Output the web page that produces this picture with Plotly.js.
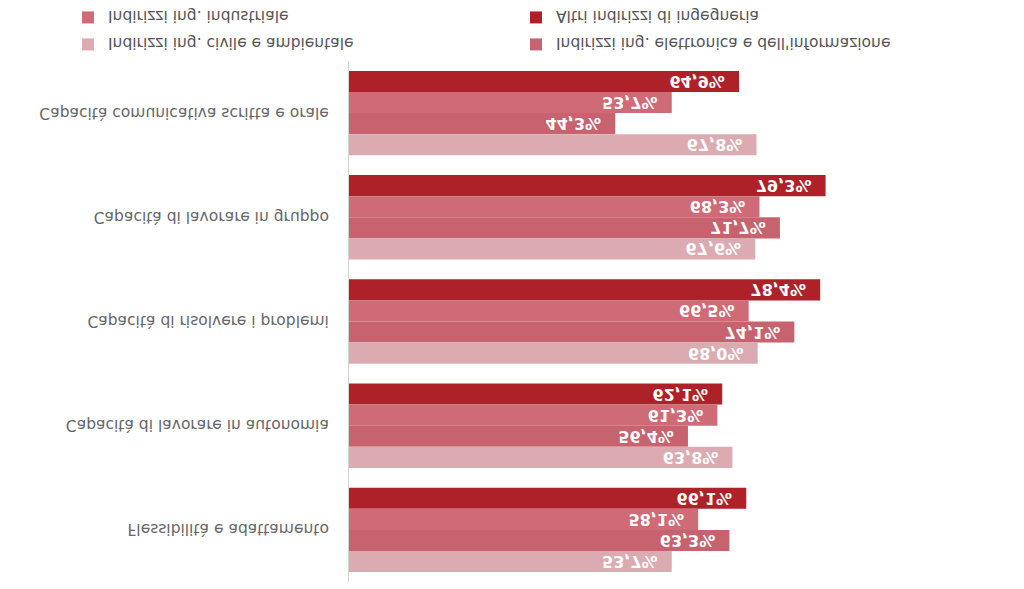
<!DOCTYPE html>
<html>
<head>
<meta charset="utf-8">
<script src="https://cdn.plot.ly/plotly-3.0.1.min.js"></script>
<style>
  html, body { margin: 0; padding: 0; background: #ffffff; }
  #chart { width: 1024px; height: 589px; transform: scaleY(-1); transform-origin: 50% 50%; }
</style>
</head>
<body>
<div id="chart"></div>
<script>
// Categories (first = bottom of plot; the whole figure is shown mirrored vertically, as in the reference)
const categories = [
  "Capacità comunicativa scritta e orale",
  "Capacità di lavorare in gruppo",
  "Capacità di risolvere i problemi",
  "Capacità di lavorare in autonomia",
  "Flessibilità e adattamento"
];
const seriesNames = [
  "Altri indirizzi di ingegneria",
  "Indirizzi ing. industriale",
  "Indirizzi ing. elettronica e dell'informazione",
  "Indirizzi ing. civile e ambientale"
];
const altri       = [64.9, 79.3, 78.4, 62.1, 66.1];
const industriale = [53.7, 68.3, 66.5, 61.3, 58.1];
const elettronica = [44.3, 71.7, 74.1, 56.4, 63.3];
const civile      = [67.8, 67.6, 68.0, 63.8, 53.7];

const colors = ["#af2129", "#cf6a77", "#c7626f", "#dcabb1"];
const seriesValues = [altri, industriale, elettronica, civile];
const legendIds = ["legend", "legend2", "legend3", "legend4"];

const fmt = v => v.toFixed(1).replace('.', ',') + '%\u00a0\u00a0';

const traces = seriesValues.map((vals, i) => ({
  type: 'bar',
  orientation: 'h',
  name: seriesNames[i],
  legend: legendIds[i],
  y: categories,
  x: vals,
  text: vals.map(fmt),
  textposition: 'inside',
  insidetextanchor: 'end',
  textangle: 0,
  constraintext: 'none',
  textfont: { family: 'DejaVu Sans', size: 16, color: '#ffffff', weight: 'bold' },
  marker: { color: colors[i], line: { width: 0 } },
  hoverinfo: 'skip'
}));

const legFont = { family: 'DejaVu Sans', size: 15.5, color: '#555555' };
const mkLegend = (x, y) => ({
  orientation: 'h',
  xref: 'container', yref: 'container',
  x: x, y: y, xanchor: 'left', yanchor: 'middle',
  bgcolor: 'rgba(0,0,0,0)', borderwidth: 0,
  font: legFont
});

const layout = {
  width: 1024,
  height: 589,
  margin: { l: 349, r: 74, t: 7, b: 60 },
  paper_bgcolor: '#ffffff',
  plot_bgcolor: '#ffffff',
  barmode: 'group',
  bargap: 0.19,
  bargroupgap: 0,
  showlegend: true,
  legend:  mkLegend(516 / 1024, 17 / 589),   // Altri indirizzi
  legend2: mkLegend(68 / 1024, 17 / 589),    // industriale
  legend3: mkLegend(516 / 1024, 44 / 589),   // elettronica
  legend4: mkLegend(68 / 1024, 44 / 589),    // civile
  xaxis: {
    range: [0, 100],
    showgrid: false, zeroline: false, showticklabels: false, showline: false, ticks: ''
  },
  yaxis: {
    type: 'category',
    showgrid: false, zeroline: false, showline: true,
    linecolor: '#d4d4d4', linewidth: 1,
    ticks: '', ticklabelstandoff: 16,
    tickfont: { family: 'DejaVu Sans', size: 15.5, color: '#666666' }
  },
  font: { family: 'DejaVu Sans' }
};

Plotly.newPlot('chart', traces, layout, { staticPlot: true, displayModeBar: false });
</script>
</body>
</html>
